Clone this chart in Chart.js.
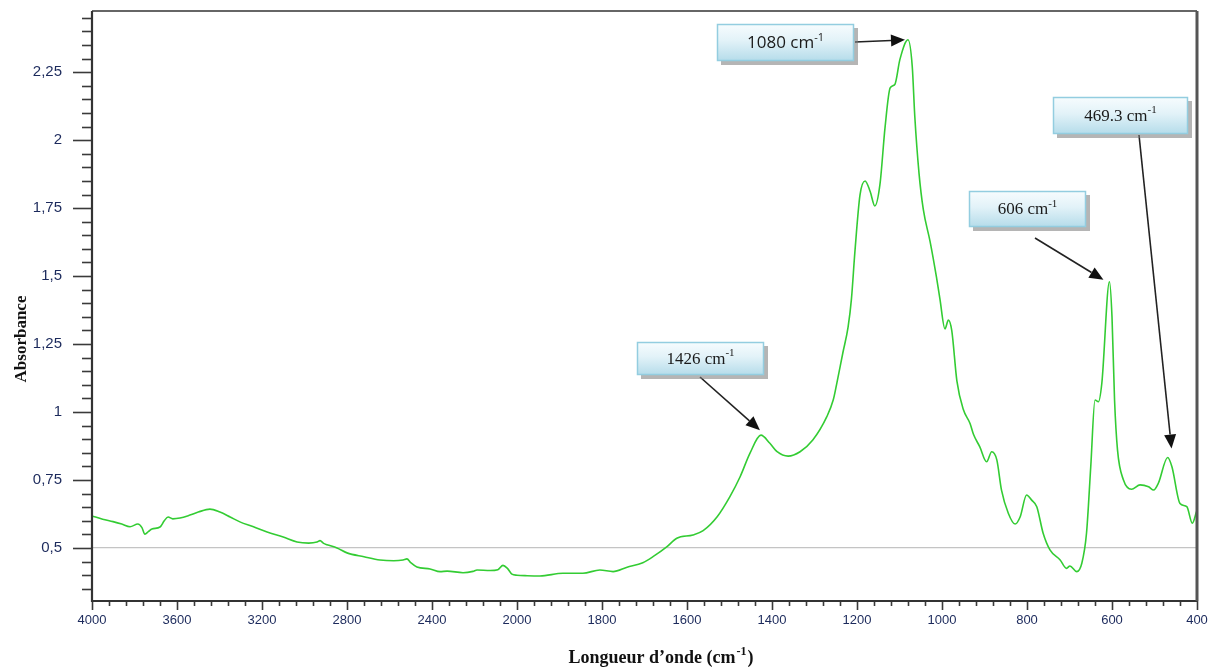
<!DOCTYPE html>
<html>
<head>
<meta charset="utf-8">
<script src="https://cdn.jsdelivr.net/npm/chart.js@4.4.1/dist/chart.umd.min.js"></script>
<style>
html,body{margin:0;padding:0;background:#ffffff;}
#wrap{width:1208px;height:670px;position:relative;}
</style>
</head>
<body>
<div id="wrap"><canvas id="c" width="1208" height="670"></canvas></div>
<script>
// ---------- DATA ----------
const wavenumbers = [4000,3950,3901,3860,3821,3784,3765,3751,3735,3718,3680,3660,3642,3620,3586,3539,3500,3445,3398,3350,3304,3240,3176,3100,3035,2980,2941,2927,2910,2894,2847,2800,2720,2645,2580,2536,2518,2500,2471,2409,2362,2329,2254,2207,2188,2127,2090,2066,2045,2024,2000,1976,1946,1892,1845,1805,1774,1741,1704,1680,1647,1624,1586,1562,1529,1499,1475,1452,1426,1405,1388,1362,1334,1304,1271,1256,1248,1233,1221,1213,1205,1193,1181,1169,1158,1146,1134,1122,1111,1099,1080,1070,1064,1054,1044,1028,1013,1005,993,985,977,965,950,934,926,911,895,883,871,860,844,828,816,801,789,777,762,746,722,707,699,683,671,660,650,640,632,624,606,600,594,587,573,554,534,514,502,491,469,459,440,424,411,401];
const absorbance = [0.618,0.606,0.597,0.588,0.578,0.588,0.575,0.551,0.560,0.570,0.577,0.600,0.614,0.607,0.610,0.621,0.632,0.643,0.632,0.614,0.596,0.578,0.559,0.540,0.522,0.518,0.522,0.527,0.517,0.512,0.500,0.482,0.468,0.456,0.453,0.456,0.460,0.446,0.430,0.423,0.413,0.415,0.409,0.414,0.419,0.417,0.420,0.436,0.425,0.404,0.400,0.398,0.397,0.407,0.407,0.419,0.413,0.429,0.446,0.468,0.505,0.536,0.548,0.564,0.615,0.689,0.762,0.848,0.915,0.885,0.854,0.838,0.854,0.897,0.983,1.044,1.102,1.220,1.312,1.417,1.588,1.798,1.850,1.811,1.758,1.837,2.047,2.192,2.205,2.297,2.369,2.271,2.087,1.877,1.745,1.627,1.496,1.417,1.306,1.338,1.299,1.115,1.010,0.958,0.918,0.872,0.817,0.854,0.824,0.713,0.628,0.588,0.615,0.695,0.676,0.652,0.554,0.493,0.456,0.425,0.434,0.413,0.444,0.554,0.799,1.044,1.038,1.105,1.479,1.350,1.044,0.860,0.750,0.716,0.732,0.725,0.713,0.738,0.833,0.799,0.664,0.652,0.591,0.634];

const xTickValues = [4000,3600,3200,2800,2400,2000,1800,1600,1400,1200,1000,800,600,400];
const xTickLabels = ['4000','3600','3200','2800','2400','2000','1800','1600','1400','1200','1000','800','600','400'];
const yTickValues = [0.5,0.75,1,1.25,1.5,1.75,2,2.25];
const yTickLabels = ['0,5','0,75','1','1,25','1,5','1,75','2','2,25'];

const peakLabels = ['1426','1080','606','469.3'];
const peakWavenumbers = [1426,1080,606,469.3];
const peakAbsorbance = [0.915,2.369,1.479,0.833];

const xTitle = 'Longueur d\u2019onde (cm';
const xTitleSup = '-1';
const xTitleEnd = ')';
const yTitle = 'Absorbance';
const unitText = ' cm';
const unitSup = '-1';

// ---------- LAYOUT / STYLE ----------
const annotationLayout = [
  {box:[637,342,127,33], from:[700,377], tipOffset:[-1,-5], family:'"Liberation Serif", serif', size:17},
  {box:[717,24,137,37], from:[855,42], tipOffset:[-3,0], family:'"Open Sans", "Liberation Sans", sans-serif', size:17},
  {box:[969,191,117,36], from:[1035,238], tipOffset:[-6,-2], family:'"Liberation Serif", serif', size:17},
  {box:[1053,97,135,37], from:[1139,135], tipOffset:[4,-9], family:'"Liberation Serif", serif', size:17}
];

// x axis: 4000-2000 compressed (400 cm-1 per division), 2000-400 expanded (200 cm-1 per division)
function toAxisUnits(wn) {
  return wn >= 2000 ? (4000 - wn) / 400 : 5 + (2000 - wn) / 200;
}
function fromAxisUnits(u) {
  return u <= 5 ? 4000 - 400 * u : 2000 - 200 * (u - 5);
}

class SplitWavenumberScale extends Chart.LinearScale {
  determineDataLimits() {
    this.min = toAxisUnits(xTickValues[0]);
    this.max = toAxisUnits(xTickValues[xTickValues.length - 1]);
  }
  buildTicks() {
    return xTickValues.map(v => ({value: v}));
  }
  getPixelForValue(value) {
    if (value === null || value === undefined) return NaN;
    return this.getPixelForDecimal((toAxisUnits(value) - this.min) / (this.max - this.min));
  }
  getValueForPixel(pixel) {
    return fromAxisUnits(this.min + this.getDecimalForPixel(pixel) * (this.max - this.min));
  }
}
SplitWavenumberScale.id = 'splitWavenumber';
SplitWavenumberScale.defaults = Chart.LinearScale.defaults;
Chart.register(SplitWavenumberScale);

const points = wavenumbers.map((w, i) => ({x: w, y: absorbance[i]}));

function drawSupText(ctx, x, y, main, sup, font, supFont, align) {
  ctx.font = font;
  const w1 = ctx.measureText(main).width;
  ctx.font = supFont;
  const w2 = ctx.measureText(sup).width;
  let sx = x;
  if (align === 'center') sx = x - (w1 + w2) / 2;
  ctx.textAlign = 'left';
  ctx.font = font;
  ctx.fillText(main, sx, y);
  ctx.font = supFont;
  ctx.fillText(sup, sx + w1, y - 6);
  return sx + w1 + w2;
}

const decorPlugin = {
  id: 'decor',
  afterDraw(chart) {
    const ctx = chart.ctx;
    const a = chart.chartArea;
    const xs = chart.scales.x, ys = chart.scales.y;
    ctx.save();

    // y ticks: major every 0.25, minor every 0.05
    ctx.strokeStyle = '#3a3a3a';
    ctx.lineWidth = 1.6;
    for (let k = 7; k <= 49; k++) {
      const v = k * 0.05;
      const py = Math.round(ys.getPixelForValue(v)) + 0.5;
      const major = (k % 5 === 0);
      ctx.beginPath();
      ctx.moveTo(a.left - (major ? 19 : 10), py);
      ctx.lineTo(a.left, py);
      ctx.stroke();
    }
    // x ticks: major at labels, 4 minor between
    for (let i = 0; i < xTickValues.length; i++) {
      const px = Math.round(xs.getPixelForValue(xTickValues[i])) + 0.5;
      ctx.beginPath(); ctx.moveTo(px, a.bottom); ctx.lineTo(px, a.bottom + 9); ctx.stroke();
      if (i < xTickValues.length - 1) {
        for (let j = 1; j < 5; j++) {
          const v = xTickValues[i] + (xTickValues[i + 1] - xTickValues[i]) * j / 5;
          const mx = Math.round(xs.getPixelForValue(v)) + 0.5;
          ctx.beginPath(); ctx.moveTo(mx, a.bottom); ctx.lineTo(mx, a.bottom + 5); ctx.stroke();
        }
      }
    }

    // frame
    ctx.strokeStyle = '#333333';
    ctx.lineWidth = 1.5;
    ctx.beginPath(); ctx.moveTo(a.left, a.top); ctx.lineTo(a.right, a.top); ctx.stroke();
    ctx.lineWidth = 2.2;
    ctx.beginPath(); ctx.moveTo(a.left, a.top); ctx.lineTo(a.left, a.bottom); ctx.lineTo(a.right, a.bottom); ctx.stroke();
    ctx.strokeStyle = '#555555';
    ctx.lineWidth = 3;
    ctx.beginPath(); ctx.moveTo(a.right, a.top); ctx.lineTo(a.right, a.bottom); ctx.stroke();

    // annotations
    for (let i = 0; i < peakLabels.length; i++) {
      const L = annotationLayout[i];
      const [bx, by, bw, bh] = L.box;
      const tx = xs.getPixelForValue(peakWavenumbers[i]) + L.tipOffset[0];
      const ty = ys.getPixelForValue(peakAbsorbance[i]) + L.tipOffset[1];
      // arrow
      const [fx, fy] = L.from;
      const ang = Math.atan2(ty - fy, tx - fx);
      const headL = 14, headW = 6;
      const bxE = tx - headL * Math.cos(ang), byE = ty - headL * Math.sin(ang);
      ctx.strokeStyle = '#222';
      ctx.lineWidth = 1.6;
      ctx.beginPath(); ctx.moveTo(fx, fy); ctx.lineTo(bxE, byE); ctx.stroke();
      ctx.fillStyle = '#111';
      ctx.beginPath();
      ctx.moveTo(tx, ty);
      ctx.lineTo(bxE + headW * Math.sin(ang), byE - headW * Math.cos(ang));
      ctx.lineTo(bxE - headW * Math.sin(ang), byE + headW * Math.cos(ang));
      ctx.closePath();
      ctx.fill();
      // shadow
      ctx.fillStyle = 'rgba(120,120,120,0.55)';
      ctx.fillRect(bx + 4, by + 4, bw, bh);
      // box
      const g = ctx.createLinearGradient(0, by, 0, by + bh);
      g.addColorStop(0, '#f7fcfe');
      g.addColorStop(0.45, '#e2f2f8');
      g.addColorStop(1, '#b5dcea');
      ctx.fillStyle = g;
      ctx.fillRect(bx, by, bw, bh);
      ctx.strokeStyle = '#93cde0';
      ctx.lineWidth = 1.5;
      ctx.strokeRect(bx + 0.5, by + 0.5, bw - 1, bh - 1);
      // text
      ctx.fillStyle = '#1a1a1a';
      ctx.textBaseline = 'middle';
      drawSupText(ctx, bx + bw / 2, by + bh / 2 + 1, peakLabels[i] + unitText, unitSup,
        L.size + 'px ' + L.family, Math.round(L.size * 0.65) + 'px ' + L.family, 'center');
    }

    // axis titles
    ctx.fillStyle = '#111';
    ctx.textBaseline = 'middle';
    const tf = 'bold 18px "Liberation Serif", serif';
    const sf = 'bold 12px "Liberation Serif", serif';
    ctx.font = tf;
    const w1 = ctx.measureText(xTitle).width;
    const w3 = ctx.measureText(xTitleEnd).width;
    ctx.font = sf;
    const w2 = ctx.measureText(xTitleSup).width;
    let sx = 660 - (w1 + w2 + w3) / 2;
    ctx.textAlign = 'left';
    ctx.font = tf; ctx.fillText(xTitle, sx, 658);
    ctx.font = sf; ctx.fillText(xTitleSup, sx + w1 + 1, 652);
    ctx.font = tf; ctx.fillText(xTitleEnd, sx + w1 + w2 + 2, 658);

    ctx.translate(22, 339);
    ctx.rotate(-Math.PI / 2);
    ctx.textAlign = 'center';
    ctx.font = 'bold 17px "Liberation Serif", serif';
    ctx.fillText(yTitle, 0, 0);

    ctx.restore();
  }
};

new Chart(document.getElementById('c'), {
  type: 'line',
  data: {
    datasets: [{
      label: 'Absorbance',
      data: points,
      borderColor: '#33cc33',
      borderWidth: 1.6,
      pointRadius: 0,
      fill: false,
      cubicInterpolationMode: 'monotone'
    }]
  },
  options: {
    responsive: false,
    devicePixelRatio: 1,
    animation: false,
    layout: {padding: {left: 0, right: 11, top: 11, bottom: 0}},
    plugins: {legend: {display: false}, tooltip: {enabled: false}, title: {display: false}},
    scales: {
      x: {
        type: 'splitWavenumber',
        position: 'bottom',
        grid: {display: true, drawOnChartArea: false, drawTicks: true, tickLength: 12, tickColor: 'rgba(0,0,0,0)'},
        border: {display: false},
        ticks: {
          autoSkip: false, maxRotation: 0, minRotation: 0, padding: 0,
          color: '#1c2a5c',
          font: {family: '"Liberation Sans", Arial, sans-serif', size: 13},
          callback: (v, i) => xTickLabels[i]
        },
        afterFit: (s) => { s.height = 69; }
      },
      y: {
        type: 'linear',
        position: 'left',
        min: 0.305,
        max: 2.475,
        afterBuildTicks: (s) => { s.ticks = yTickValues.map(v => ({value: v})); },
        grid: {
          drawTicks: true,
          tickLength: 30,
          tickColor: 'rgba(0,0,0,0)',
          lineWidth: 1.2,
          color: (c) => (c.tick && c.tick.value === 0.5) ? '#c4c4c4' : 'rgba(0,0,0,0)'
        },
        border: {display: false},
        ticks: {
          padding: 0,
          color: '#1c2a5c',
          font: {family: '"Liberation Sans", Arial, sans-serif', size: 15},
          callback: (v, i) => yTickLabels[i]
        },
        afterFit: (s) => { s.width = 92; }
      }
    }
  },
  plugins: [decorPlugin]
});
</script>
</body>
</html>
